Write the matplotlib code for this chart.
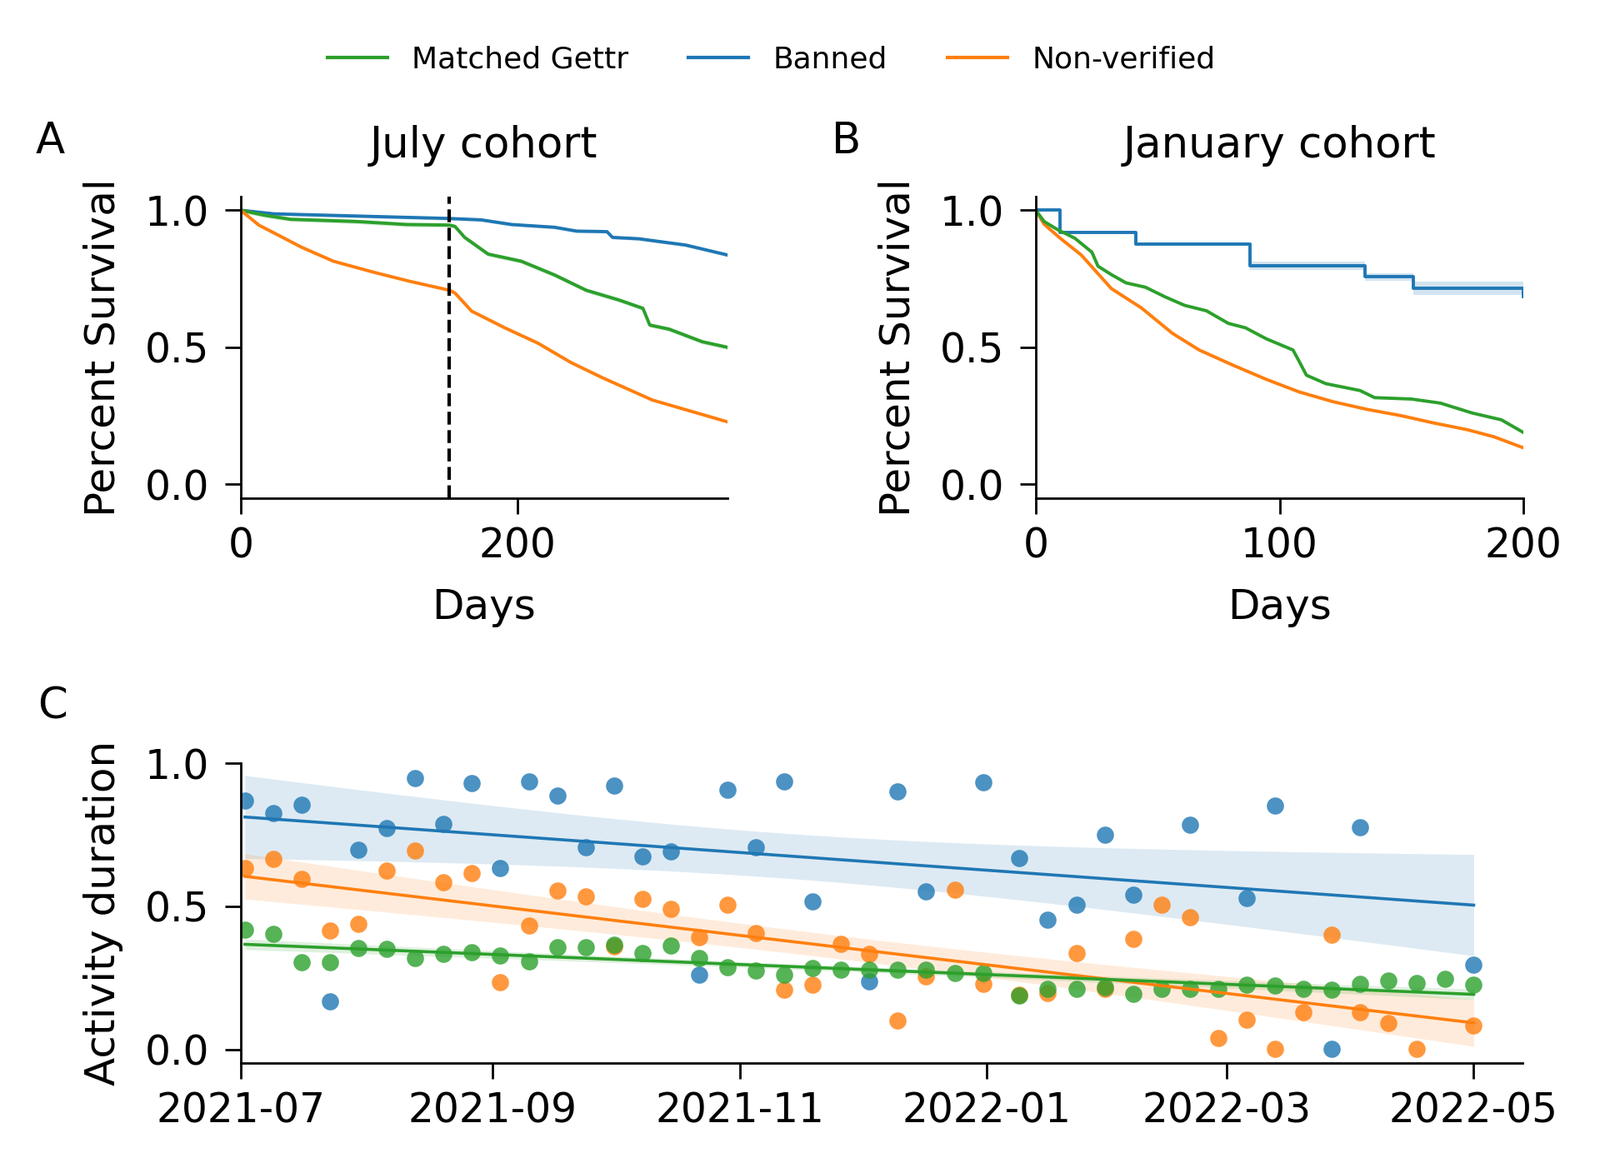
import numpy as np
import pandas as pd
import matplotlib
matplotlib.use('Agg')
import matplotlib.pyplot as plt
import matplotlib.dates as mdates
from matplotlib.lines import Line2D

GREEN = '#2ca02c'
BLUE = '#1f77b4'
ORANGE = '#ff7f0e'

# ---- panel A: July cohort survival (days, fraction surviving)
a_blue_days = [0, 24, 151, 174, 196, 227, 243, 265, 269, 288, 322, 352]
a_blue_surv = [1.0, .987, .970, .965, .948, .938, .924, .922, .901, .896, .873, .837]
a_green_days = [0, 17, 36, 84, 120, 151, 155, 162, 179, 203, 227, 250, 274, 291, 296, 310, 334, 352]
a_green_surv = [1.0, .982, .967, .959, .948, .946, .941, .901, .840, .814, .764, .708, .672, .642, .581, .566, .520, .500]
a_orange_days = [0, 13, 44, 67, 96, 122, 151, 155, 167, 191, 215, 239, 262, 298, 322, 352]
a_orange_surv = [1.0, .946, .865, .814, .774, .741, .708, .698, .632, .571, .515, .444, .388, .307, .272, .228]
a_cutoff = 151

# ---- panel B: January cohort survival
b_blue_days = [0, 10, 41, 88, 135, 155, 200]
b_blue_surv = [1.0, .918, .878, .798, .757, .716, .684]
b_blue_ci = [0.0, .003, .005, .015, .014, .025, .03]
b_green_days = [0, 3.4, 9, 16, 23, 25.5, 31, 37, 45, 53, 61, 70, 79, 86, 94.5, 105.5, 108, 111, 119, 133, 139, 154, 166, 179, 191, 200]
b_green_surv = [1.0, .959, .929, .898, .847, .796, .765, .735, .719, .684, .653, .633, .587, .571, .531, .490, .449, .398, .367, .342, .316, .311, .296, .260, .235, .189]
b_orange_days = [0, 3.4, 10, 18.6, 31, 43.4, 56, 67, 81, 94.5, 108, 122, 136, 150, 163, 177, 188, 200]
b_orange_surv = [1.0, .949, .898, .837, .714, .643, .551, .490, .434, .383, .337, .301, .273, .250, .224, .199, .173, .133]

# ---- panel C: weekly activity duration
week_dates = list(pd.date_range('2021-07-02', '2021-12-31', freq='7D')) + \
             list(pd.date_range('2022-01-09', '2022-05-01', freq='7D'))
nan = np.nan
c_banned = [.870, .826, .855, .169, .699, .773, .949, .787, .930, .633, .935, .888, .707, .923, .673,
            .691, .261, .906, .707, .935, .517, nan, .237, .901, .551, nan, .934, .670, .452, .507,
            .751, .541, nan, .786, nan, .528, .853, nan, .002, .775, nan, nan, nan, .297]
c_nonver = [.635, .665, .596, .415, .440, .625, .696, .585, .616, .235, .433, .556, .534, .360, .527,
            .491, .391, .505, .406, .208, .225, .370, .333, .101, .256, .558, .229, .190, .198, .336,
            .213, .386, .507, .461, .039, .104, .002, .130, .401, .130, .092, .002, nan, .084]
c_gettr = [.417, .404, .304, .306, .353, .351, .319, .333, .340, .329, .309, .357, .357, .367, .336,
           .362, .319, .287, .275, .261, .285, .280, .280, .280, .280, .266, .266, .188, .213, .213,
           .217, .193, .213, .213, .213, .225, .222, .213, .210, .230, .240, .232, .246, .225]


def reg_line(x, y):
    ok = ~np.isnan(y)
    x, y = x[ok], y[ok]
    slope, icpt = np.polyfit(x, y, 1)
    xs = np.linspace(x.min(), x.max(), 100)
    yhat = icpt + slope*xs
    resid = y - (icpt + slope*x)
    s = np.sqrt(np.sum(resid**2)/(len(x)-2))
    se = s*np.sqrt(1/len(x) + (xs - x.mean())**2/np.sum((x - x.mean())**2))
    return xs, yhat, 2.02*se


def style_axes(ax):
    for side in ['top', 'right']:
        ax.spines[side].set_visible(False)
    for side in ['left', 'bottom']:
        ax.spines[side].set_linewidth(1.0)
    ax.tick_params(axis='both', length=7, width=1.0, labelsize=17.5)
    ax.tick_params(axis='y', pad=6.5)
    ax.tick_params(axis='x', pad=5)


def main():
    fig = plt.figure(figsize=(9.6, 7.01), dpi=200)
    lw = 1.4

    # panel A
    axA = fig.add_axes([0.1505, 0.5737, 0.304, 0.258])
    axA.plot(a_blue_days, a_blue_surv, color=BLUE, lw=lw)
    axA.fill_between(a_blue_days, np.array(a_blue_surv)-.006, np.array(a_blue_surv)+.006, color=BLUE, alpha=0.2, lw=0)
    axA.plot(a_green_days, a_green_surv, color=GREEN, lw=lw)
    axA.fill_between(a_green_days, np.array(a_green_surv)-.008, np.array(a_green_surv)+.008, color=GREEN, alpha=0.2, lw=0)
    axA.plot(a_orange_days, a_orange_surv, color=ORANGE, lw=lw)
    axA.axvline(a_cutoff, color='black', ls='--', lw=1.5)
    axA.set_xlim(0, 352)
    axA.set_ylim(-0.05, 1.05)
    axA.set_xticks([0, 200])
    axA.set_yticks([0, 0.5, 1.0])
    axA.set_xlabel('Days', fontsize=18, labelpad=9.5)
    axA.set_ylabel('Percent Survival', fontsize=18, labelpad=9.5)
    axA.set_title('July cohort', fontsize=18.5, pad=17)
    style_axes(axA)

    # panel B
    axB = fig.add_axes([0.6474, 0.5737, 0.3047, 0.258])
    bb = np.array(b_blue_surv)
    bc = np.array(b_blue_ci)
    axB.fill_between(b_blue_days, bb-bc, bb+bc, step='post', color=BLUE, alpha=0.2, lw=0)
    axB.plot(b_blue_days, b_blue_surv, color=BLUE, lw=lw, drawstyle='steps-post')
    axB.plot(b_orange_days, b_orange_surv, color=ORANGE, lw=lw)
    axB.plot(b_green_days, b_green_surv, color=GREEN, lw=lw)
    axB.set_xlim(0, 200)
    axB.set_ylim(-0.05, 1.05)
    axB.set_xticks([0, 100, 200])
    axB.set_yticks([0, 0.5, 1.0])
    axB.set_xlabel('Days', fontsize=18, labelpad=9.5)
    axB.set_ylabel('Percent Survival', fontsize=18, labelpad=9.5)
    axB.set_title('January cohort', fontsize=18.5, pad=17)
    style_axes(axB)

    # panel C
    axC = fig.add_axes([0.1505, 0.0899, 0.801, 0.2567])
    xnum = mdates.date2num(week_dates)
    for vals, col in [(c_banned, BLUE), (c_nonver, ORANGE), (c_gettr, GREEN)]:
        y = np.array(vals, dtype=float)
        axC.scatter(xnum, y, s=55, color=col, alpha=0.8, linewidths=0, zorder=2)
        xs, yhat, ci = reg_line(xnum, y)
        axC.plot(xs, yhat, color=col, lw=1.3, zorder=3)
        axC.fill_between(xs, yhat-ci, yhat+ci, color=col, alpha=0.15, lw=0, zorder=1)
    axC.set_xlim(mdates.date2num(pd.Timestamp('2021-07-01')), mdates.date2num(pd.Timestamp('2022-05-13')))
    axC.set_ylim(-0.047, 1.0)
    axC.set_yticks([0, 0.5, 1.0])
    axC.xaxis.set_major_locator(mdates.MonthLocator(bymonth=[1, 3, 5, 7, 9, 11]))
    axC.xaxis.set_major_formatter(mdates.DateFormatter('%Y-%m'))
    axC.set_ylabel('Activity duration', fontsize=18, labelpad=9.5)
    style_axes(axC)

    # panel letters
    fig.text(0.0224, 0.8688, 'A', fontsize=18.5)
    fig.text(0.520, 0.8688, 'B', fontsize=18.5)
    fig.text(0.0234, 0.3845, 'C', fontsize=18.5)

    handles = [Line2D([], [], color=GREEN, lw=1.5),
               Line2D([], [], color=BLUE, lw=1.5),
               Line2D([], [], color=ORANGE, lw=1.5)]
    fig.legend(handles, ['Matched Gettr', 'Banned', 'Non-verified'], loc='center',
               bbox_to_anchor=(0.482, 0.949), ncol=3, frameon=False, fontsize=13,
               handlelength=2.0, handletextpad=0.8, columnspacing=2.0)

    fig.savefig('out.png', dpi=200)
    plt.close()


if __name__ == "__main__": main()
